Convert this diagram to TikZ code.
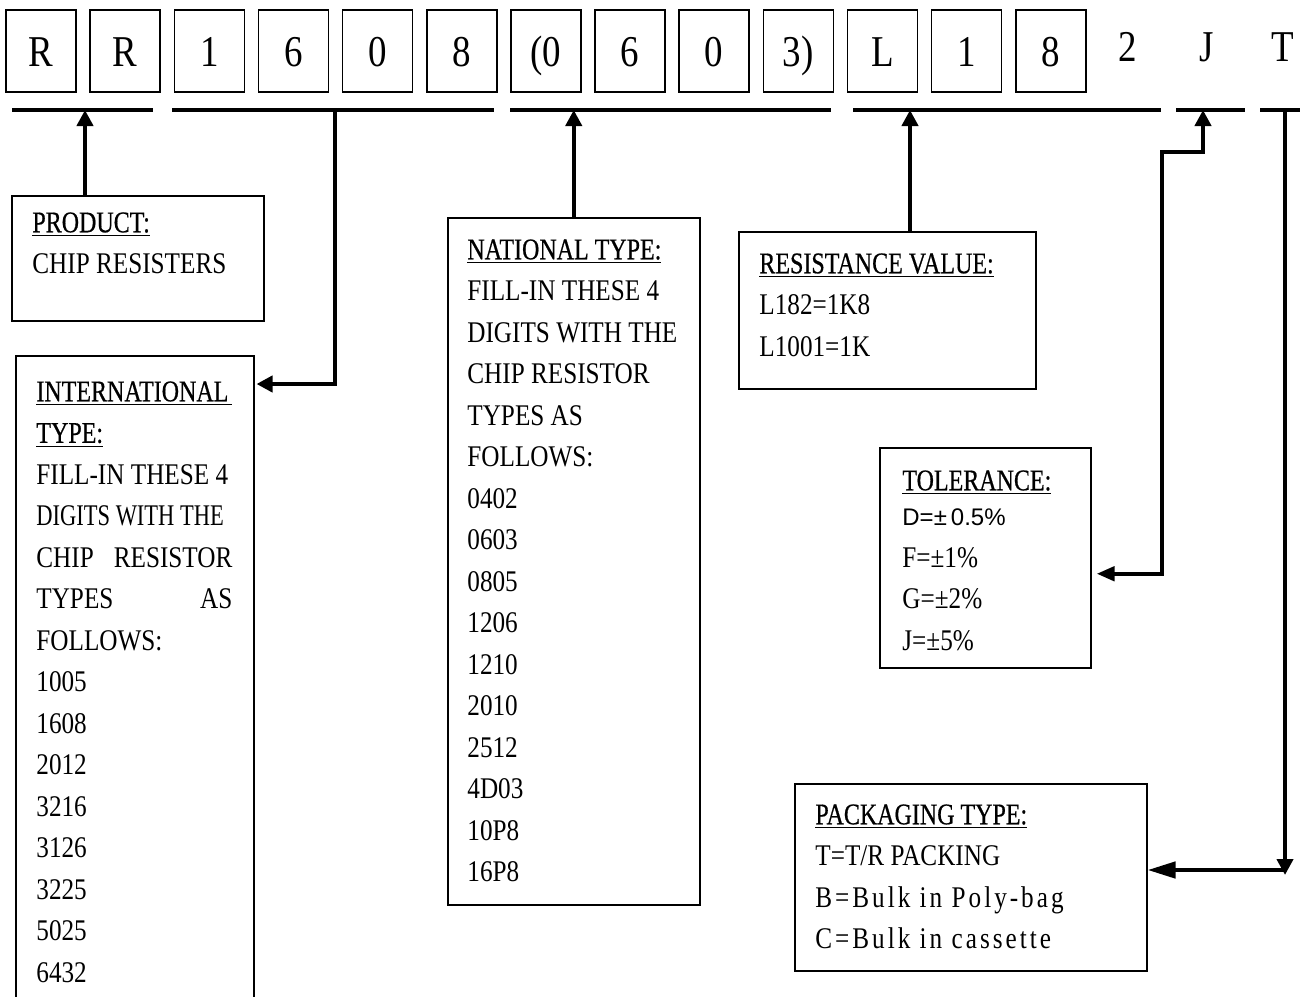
\documentclass[tikz,border=0pt]{standalone}
\usepackage{fontspec}
\setmainfont{Liberation Serif}[FakeStretch=0.84]
\newfontfamily\headfont{Liberation Serif}[FakeStretch=0.8,FakeBold=0.6]
\newfontfamily\narrowfont{Liberation Serif}[FakeStretch=0.75]
\newfontfamily\widefont{Liberation Serif}[FakeStretch=0.84,LetterSpace=10]
\newfontfamily\dfont{Liberation Sans}
\usetikzlibrary{arrows.meta,calc}
\newcommand{\head}[1]{{\headfont\underline{#1}}}
\newcommand{\jline}[1]{\makebox[98pt][s]{#1}}
\tikzset{
  digitbox/.style={draw,line width=0.75pt,minimum width=35pt,minimum height=41pt,inner sep=0pt,
    text height=15pt,text depth=0pt,font=\fontsize{22}{22}\selectfont},
  bigchar/.style={inner sep=0pt,text height=15pt,text depth=0pt,font=\fontsize{22}{22}\selectfont},
  bar/.style={line width=2.2pt},
  arr/.style={line width=2.2pt,-{Triangle[length=8pt,width=8pt]}},
  arrboth/.style={line width=2.2pt,{Triangle[length=9pt,width=7pt]}-{Triangle[length=8pt,width=8pt]}},
  infobox/.style 2 args={draw,line width=0.75pt,anchor=north west,minimum width=#1*0.5pt,
    minimum height=#2*0.5pt,inner sep=0pt},
  infotext/.style={anchor=north west,inner sep=0pt,align=left,font=\fontsize{15}{20.75}\selectfont},
}
\begin{document}
\begin{tikzpicture}[x=0.5pt,y=-0.5pt]
\useasboundingbox (0,0) rectangle (1300,996);
\clip (0,0) rectangle (1300,996);
% code characters
\foreach \c [count=\i from 0] in {R,R,1,6,0,8,{(0},6,0,{3)},L,1,8}
  \node[digitbox] (d\i) at (41+84.15*\i,51) {\c};
\node[bigchar] (u2) at (1128,46) {2};
\node[bigchar] (uJ) at (1207,46) {J};
\node[bigchar] (uT) at (1283,46) {T};
% group bars
\foreach \l/\r [count=\k] in {12/153,172/494,510/831,853/1161,1176/1245,1260/1300}
  \draw[bar] (\l,110) coordinate (bl\k) -- (\r,110) coordinate (br\k);
% boxes
\node[infobox={252}{125}] (prod) at (11,195) {};
\node[infobox={238}{680}] (intl) at (15,355) {};
\node[infobox={252}{687}] (nat) at (447,217) {};
\node[infobox={297}{157}] (res) at (738,231) {};
\node[infobox={211}{220}] (tol) at (879,447) {};
\node[infobox={352}{187}] (pkg) at (794,783) {};
% texts
\node[infotext] (prodtxt) at (32,212) {\head{PRODUCT:}\\CHIP RESISTERS};
\node[infotext] (intltxt) at (36,381) {\head{\makebox[98pt][l]{INTERNATIONAL}}\\
  \head{TYPE:}\\ FILL-IN THESE 4\\ {\narrowfont DIGITS WITH THE}\\
  \jline{CHIP RESISTOR}\\ \jline{TYPES AS}\\ FOLLOWS:\\
  1005\\1608\\2012\\3216\\3126\\3225\\5025\\6432};
\node[infotext] (nattxt) at (467,239) {\head{NATIONAL TYPE:}\\FILL-IN THESE 4\\
  DIGITS WITH THE\\CHIP RESISTOR\\TYPES AS\\FOLLOWS:\\
  0402\\0603\\0805\\1206\\1210\\2010\\2512\\4D03\\10P8\\16P8};
\node[infotext] (restxt) at (759,253) {\head{RESISTANCE VALUE:}\\L182=1K8\\L1001=1K};
\node[infotext] (toltxt) at (902,470) {\head{TOLERANCE:}\\[-3pt]
  {\dfont\fontsize{12}{12}\selectfont D=±\,0.5\%}\\F=±1\%\\G=±2\%\\J=±5\%};
\node[infotext] (pkgtxt) at (815,804) {\head{PACKAGING TYPE:}\\T=T/R PACKING\\
  {\widefont B=Bulk in Poly-bag}\\{\widefont C=Bulk in cassette}};
% connectors
\coordinate (p1) at ($(prod.north west)+(74,0)$);
\draw[arr] (p1) -- (p1 |- bl1);
\coordinate (t2) at ($(bl2)+(163,0)$);
\draw[arr] (t2) |- ($(intl.north east)+(2,29)$);
\draw[arr] (nat.north) -- (nat.north |- bl3);
\coordinate (r1) at ($(res.north west)+(172,0)$);
\draw[arr] (r1) -- (r1 |- bl4);
\coordinate (jt) at ($(bl5)+(27,0)$);
\coordinate (jm) at ($(jt)+(-41,42)$);
\coordinate (tolr) at ($(tol.east)+(5,16)$);
\draw[arrboth] (tolr) -| (jm) -| (jt);
\coordinate (tt) at ($(bl6)+(25,0)$);
\coordinate (tc) at ($(tt)+(0,760)$);
\draw[arr] (tt) -- ($(tc)+(0,5)$);
\draw[line width=2.2pt,-{Triangle[length=14pt,width=8pt]}] (tc) -- (pkg.east |- tc);
\end{tikzpicture}
\end{document}
